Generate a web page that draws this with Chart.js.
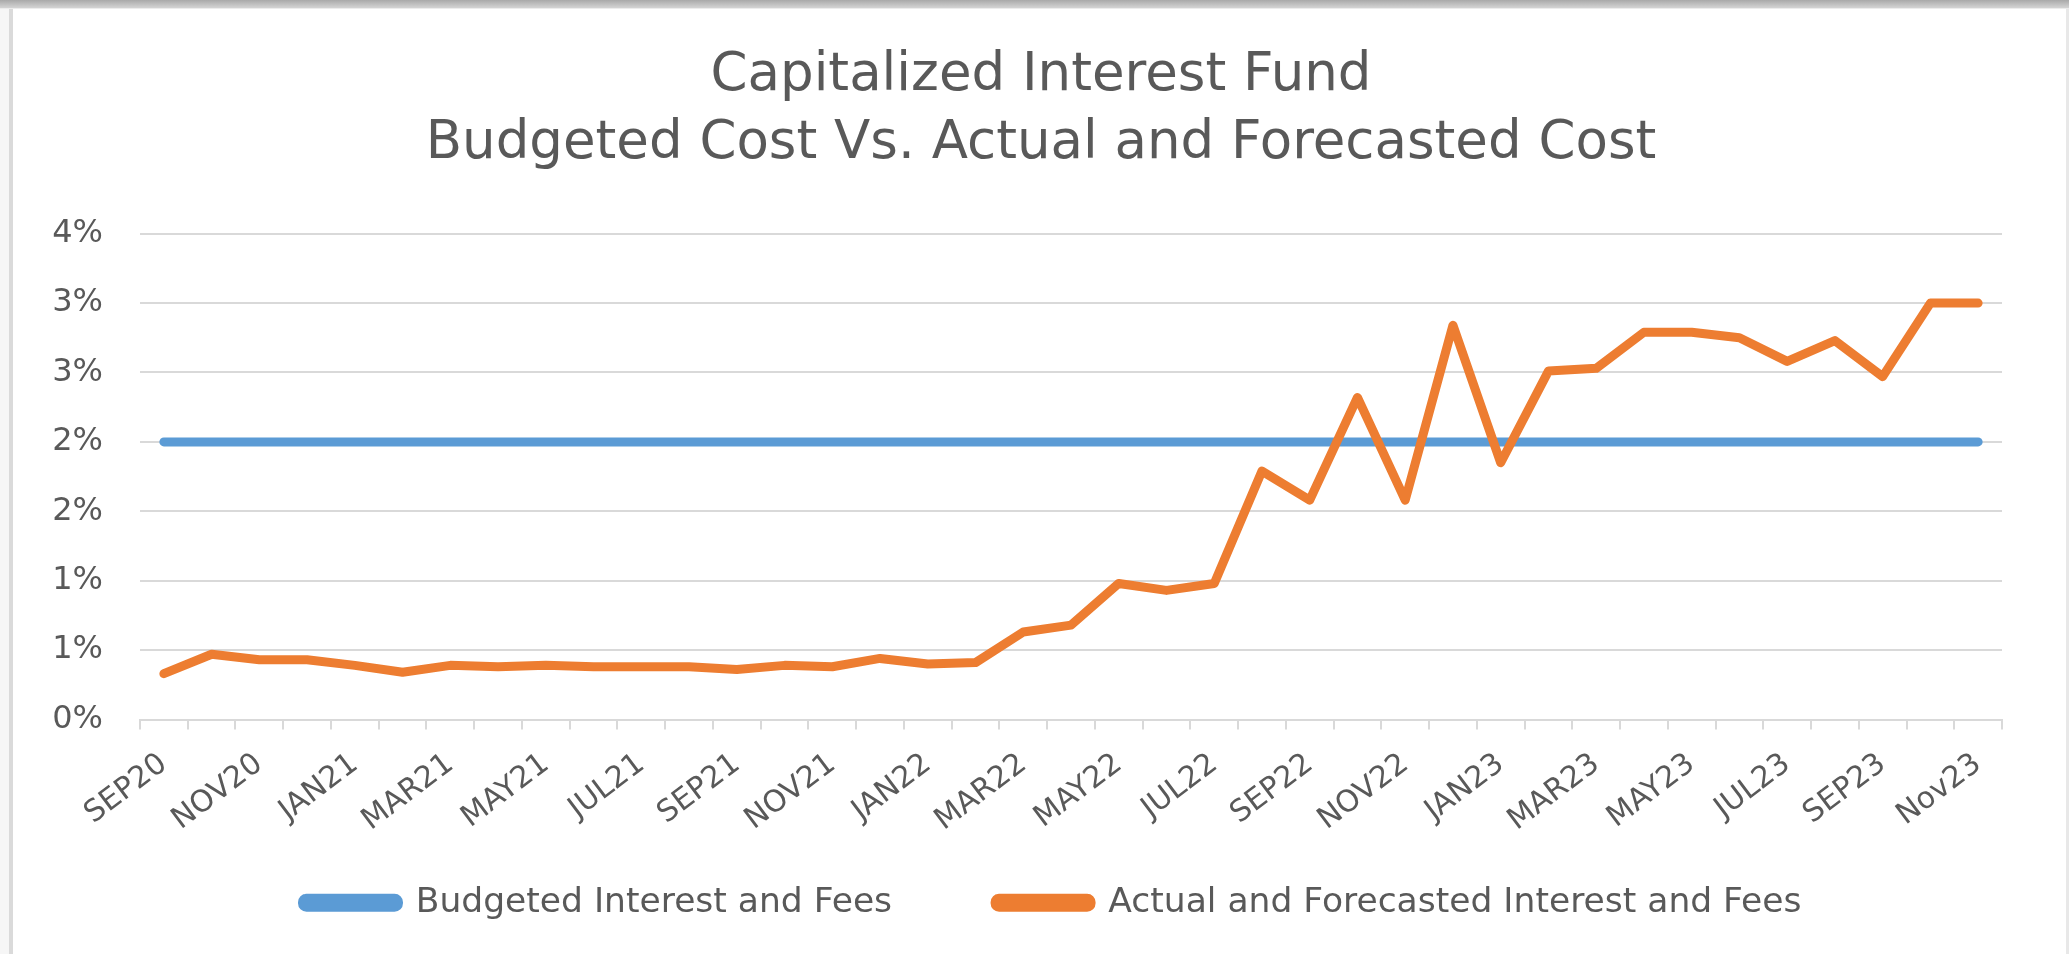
<!DOCTYPE html>
<html>
<head>
<meta charset="utf-8">
<title>Capitalized Interest Fund</title>
<script src="https://cdn.jsdelivr.net/npm/chart.js@4.4.1/dist/chart.umd.min.js"></script>
<style>
  html, body { margin: 0; padding: 0; background: #fff; }
  #wrap { position: absolute; left: 0; top: 0; width: 2069px; height: 954px; }
  #topBar { position: absolute; left: 0; top: 0; width: 2069px; height: 8px;
    background: linear-gradient(#a9a9a9, #d4d4d4); border-bottom: 1px solid #ececec; }
  #leftEdge { position: absolute; left: 0; top: 9px; width: 9px; height: 945px; background: #f6f6f6; }
  #leftLine { position: absolute; left: 9px; top: 9px; width: 4px; height: 945px; background: #dadada; }
  #rightLine { position: absolute; left: 2066px; top: 9px; width: 3px; height: 945px; background: #e8e8e8; }
</style>
</head>
<body>
<div id="wrap">
  <canvas id="interestChart"></canvas>
</div>
<div id="topBar"></div>
<div id="leftEdge"></div>
<div id="leftLine"></div>
<div id="rightLine"></div>
<script>
const categories = [
  "SEP20", "OCT20", "NOV20", "DEC20", "JAN21", "FEB21", "MAR21", "APR21",
  "MAY21", "JUN21", "JUL21", "AUG21", "SEP21", "OCT21", "NOV21", "DEC21",
  "JAN22", "FEB22", "MAR22", "APR22", "MAY22", "JUN22", "JUL22", "AUG22",
  "SEP22", "OCT22", "NOV22", "DEC22", "JAN23", "FEB23", "MAR23", "APR23",
  "MAY23", "JUN23", "JUL23", "AUG23", "SEP23", "OCT23", "Nov23"
];

// values in percent
const budgetedValues = [
  2.0, 2.0, 2.0, 2.0, 2.0, 2.0, 2.0, 2.0, 2.0, 2.0, 2.0, 2.0, 2.0,
  2.0, 2.0, 2.0, 2.0, 2.0, 2.0, 2.0, 2.0, 2.0, 2.0, 2.0, 2.0, 2.0,
  2.0, 2.0, 2.0, 2.0, 2.0, 2.0, 2.0, 2.0, 2.0, 2.0, 2.0, 2.0, 2.0
];
const actualValues = [
  0.33, 0.47, 0.43, 0.43, 0.39, 0.34, 0.39, 0.38, 0.39, 0.38, 0.38, 0.38, 0.36,
  0.39, 0.38, 0.44, 0.40, 0.41, 0.63, 0.68, 0.98, 0.93, 0.98, 1.79, 1.58, 2.32,
  1.58, 2.84, 1.85, 2.51, 2.53, 2.79, 2.79, 2.75, 2.58, 2.73, 2.47, 3.0, 3.0
];

// the source shows whole percents, so the half steps round up
const yTickLabels = ["0%", "1%", "1%", "2%", "2%", "3%", "3%", "4%"];

const textColor = "#595959";
const gridColor = "#d9d9d9";
const fontFamily = "'DejaVu Sans', Verdana, sans-serif";

Chart.defaults.font.family = fontFamily;
Chart.defaults.color = textColor;

// small layout nudges: the wide gap between legend items also pushes the
// row down, so pull it back up; title and legend sit a bit right of centre
const layoutNudge = {
  id: "layoutNudge",
  afterLayout(chart) {
    const lift = 62;
    chart.legend.top -= lift;
    chart.legend.bottom -= lift;
    const legendShift = 26;
    chart.legend.left += legendShift;
    chart.legend.right += legendShift;
    const titleShift = 15;
    chart.titleBlock.left += titleShift;
    chart.titleBlock.right += titleShift;
  }
};

const ctx = document.getElementById("interestChart");

new Chart(ctx, {
  type: "line",
  data: {
    labels: categories,
    datasets: [
      {
        label: "Budgeted Interest and Fees",
        data: budgetedValues,
        borderColor: "#5b9bd5",
        backgroundColor: "#5b9bd5",
        borderWidth: 9,
        borderCapStyle: "round",
        borderJoinStyle: "round",
        pointRadius: 0,
        tension: 0,
        order: 2
      },
      {
        label: "Actual and Forecasted Interest and Fees",
        data: actualValues,
        borderColor: "#ed7d31",
        backgroundColor: "#ed7d31",
        borderWidth: 9,
        borderCapStyle: "round",
        borderJoinStyle: "round",
        pointRadius: 0,
        tension: 0,
        order: 1
      }
    ]
  },
  plugins: [layoutNudge],
  options: {
    responsive: true,
    maintainAspectRatio: false,
    animation: false,
    devicePixelRatio: 1,
    layout: {
      padding: { top: 0, left: 50, right: 67, bottom: -38 }
    },
    plugins: {
      title: {
        display: true,
        text: ["Capitalized Interest Fund", "Budgeted Cost Vs. Actual and Forecasted Cost"],
        color: textColor,
        font: { size: 53, weight: "normal", lineHeight: 1.28 },
        padding: { top: 42, bottom: 56 }
      },
      legend: {
        position: "bottom",
        labels: {
          color: textColor,
          font: { size: 34.5 },
          boxWidth: 96,
          boxHeight: 9,
          useBorderRadius: true,
          borderRadius: 4,
          padding: 103,
          sort: (a, b) => a.datasetIndex - b.datasetIndex
        }
      },
      tooltip: { enabled: false }
    },
    scales: {
      x: {
        offset: true,
        grid: {
          offset: true,
          drawOnChartArea: false,
          drawTicks: true,
          tickLength: 10,
          color: gridColor,
          lineWidth: 2
        },
        border: { display: true, color: gridColor, width: 2 },
        ticks: {
          autoSkip: false,
          minRotation: 37,
          maxRotation: 37,
          padding: 17,
          color: textColor,
          font: { size: 30 },
          callback: function (value, index) {
            return index % 2 === 0 ? categories[index] : "";
          }
        },
        afterFit: function (scale) {
          scale.height = 125;
        }
      },
      y: {
        min: 0,
        max: 3.5,
        grid: {
          color: gridColor,
          lineWidth: 2,
          drawTicks: false
        },
        border: { display: false },
        ticks: {
          stepSize: 0.5,
          padding: 37,
          color: textColor,
          font: { size: 32 },
          callback: function (value, index) {
            return yTickLabels[index];
          }
        },
        afterFit: function (scale) {
          scale.width = 90;
        }
      }
    }
  }
});
</script>
</body>
</html>
